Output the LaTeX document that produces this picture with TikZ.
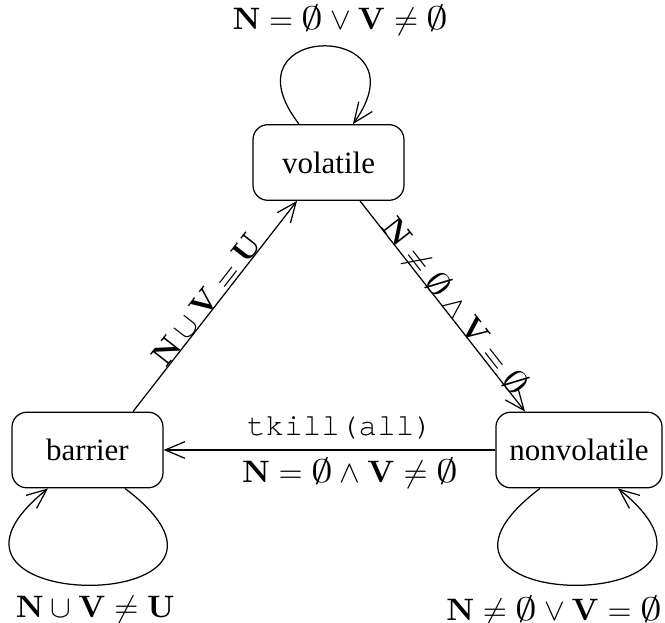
\documentclass[tikz,border=0pt]{standalone}
\usepackage[no-math]{fontspec}
\usepackage{graphicx}
\setmainfont{Liberation Serif}
\setmonofont{TeX Gyre Cursor}
\usetikzlibrary{arrows.meta}
\newcommand\eset{\mathord{\scalebox{1.4}[1.05]{$\emptyset$}}}
\begin{document}
\begin{tikzpicture}[x=0.3226pt,y=0.3226pt,
  state/.style={draw, rounded corners=4.8pt, minimum width=48.7pt,
    minimum height=24.4pt, inner xsep=4.3pt, line width=0.4pt,
    font=\fontsize{10}{12}\selectfont},
  tr/.style={-{Straight Barb[length=6.4pt,width=5.4pt]}, line width=0.4pt},
  lbl/.style={font=\fontsize{10}{12}\selectfont}]
\useasboundingbox (0,0) rectangle (665,622);

\node[state] (volatile) at (328.5,459.5) {volatile};
\node[state] (barrier) at (87.5,172) {barrier};
\node[state] (nonvolatile) at (579,172) {nonvolatile};

% self loops
\draw[tr] ([xshift=-9.52pt]volatile.north) .. controls +(-80,104) and +(75,104) ..
  node[lbl, above, xshift=5.3pt] {$\mathbf{N}=\eset\vee\mathbf{V}\neq\eset$}
  ([xshift=7.9pt]volatile.north);
\draw[tr] ([xshift=12.1pt]barrier.south) .. controls +(170,-129) and +(-160,-129) ..
  node[lbl, below, xshift=1.6pt] {$\mathbf{N}\cup\mathbf{V}\neq\mathbf{U}$}
  ([xshift=-12.74pt]barrier.south);
\draw[tr] ([xshift=-12.58pt]nonvolatile.south) .. controls +(-170,-129) and +(160,-129) ..
  node[lbl, below, xshift=-6.8pt] {$\mathbf{N}\neq\eset\vee\mathbf{V}=\eset$}
  ([xshift=12.58pt]nonvolatile.south);

% transitions
\draw[tr] ([xshift=14.68pt]barrier.north) --
  node[lbl, sloped, anchor=base, pos=.5] {$\mathbf{N}\cup\mathbf{V}=\mathbf{U}$}
  ([xshift=-10.16pt]volatile.south);
\draw[tr] ([xshift=10.16pt]volatile.south) --
  node[lbl, sloped, anchor=base, pos=.53] {$\mathbf{N}\neq\eset\wedge\mathbf{V}=\eset$}
  ([xshift=-17.42pt]nonvolatile.north);
\draw[tr] (nonvolatile) --
  node[lbl, above, pos=.468] {\texttt{tkill(all)}}
  node[lbl, below, pos=.438, inner sep=2.5pt] {$\mathbf{N}=\eset\wedge\mathbf{V}\neq\eset$}
  (barrier);
\end{tikzpicture}
\end{document}
